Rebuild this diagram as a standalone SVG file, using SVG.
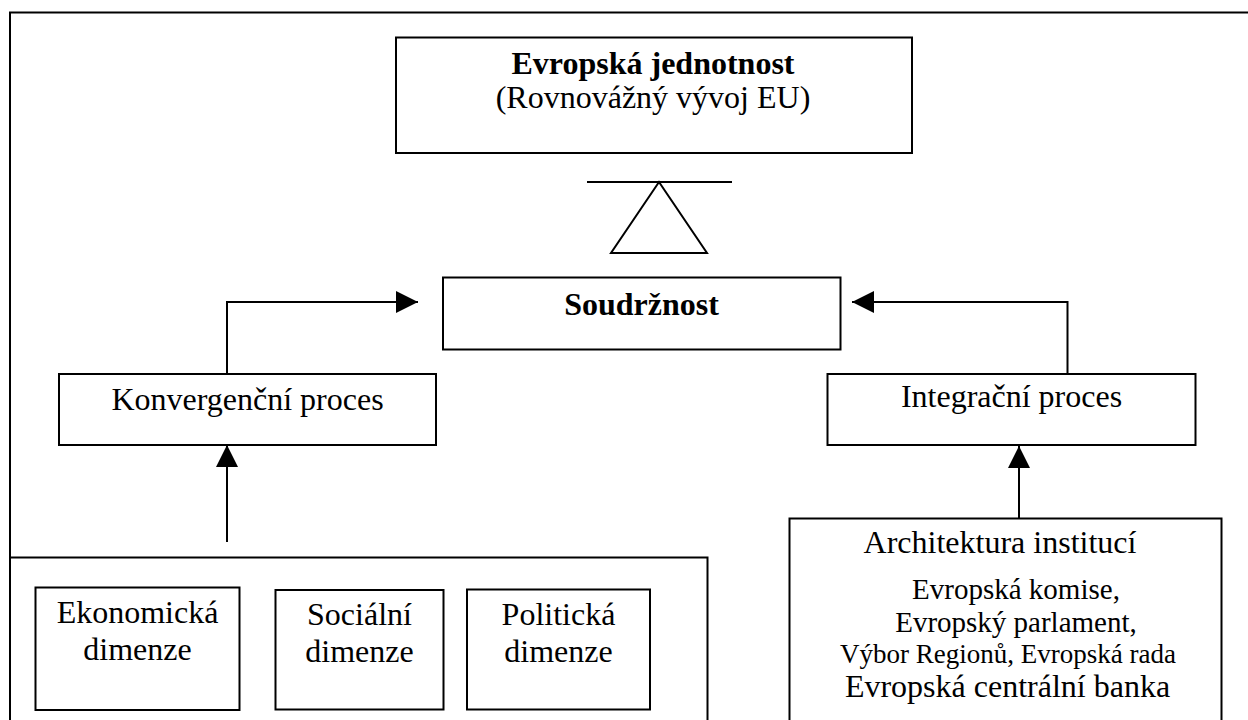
<svg xmlns="http://www.w3.org/2000/svg" width="1248" height="720" viewBox="0 0 1248 720">
<style>
.box{fill:#fff;stroke:#000;stroke-width:2}
.ln{fill:none;stroke:#000;stroke-width:2}
</style>
<defs>
<marker id="ah" markerUnits="userSpaceOnUse" markerWidth="22" markerHeight="22" viewBox="0 0 20 20" refX="20" refY="10" orient="auto">
<path d="M0,0 L20,10 L0,20 Z" fill="#000"/>
</marker>
</defs>
<rect x="0" y="0" width="1248" height="720" fill="#fff"/>
<g id="frame">
<path class="ln" d="M10,730 L10,12.5 L1250,12.5"/>
</g>
<g font-family="'Liberation Serif'" font-size="32" text-anchor="middle" fill="#000">
<g id="node-jednotnost">
<rect class="box" x="396" y="37.5" width="516" height="115.5"/>
<text font-family="'Liberation Serif'" font-weight="bold" x="653" y="74">Evropská jednotnost</text>
<text font-family="'Liberation Serif'" x="653" y="108">(Rovnovážný vývoj EU)</text>
</g>
<g id="balance">
<line class="ln" x1="587" y1="182" x2="732" y2="182"/>
<path class="ln" d="M659,182 L611,253 L707,253 Z"/>
</g>
<g id="node-soudrznost">
<rect class="box" x="443" y="277.5" width="397.5" height="72"/>
<text font-family="'Liberation Serif'" font-weight="bold" x="641.5" y="315">Soudržnost</text>
</g>
<g id="node-konvergence">
<rect class="box" x="59" y="374" width="377" height="71"/>
<text font-family="'Liberation Serif'" x="247.5" y="410">Konvergenční proces</text>
</g>
<g id="node-integrace">
<rect class="box" x="827.5" y="374" width="368" height="71"/>
<text font-family="'Liberation Serif'" x="1011.5" y="407">Integrační proces</text>
</g>
<g id="node-dimenze">
<rect class="box" x="10" y="557.5" width="697.5" height="175"/>
</g>
<g id="node-ekonomicka">
<rect class="box" x="35.5" y="587.5" width="204" height="122.5"/>
<text font-family="'Liberation Serif'" x="137.5" y="623">Ekonomická</text>
<text font-family="'Liberation Serif'" x="137.5" y="660">dimenze</text>
</g>
<g id="node-socialni">
<rect class="box" x="275.5" y="590" width="168" height="119.5"/>
<text font-family="'Liberation Serif'" x="359.5" y="625">Sociální</text>
<text font-family="'Liberation Serif'" x="359.5" y="662">dimenze</text>
</g>
<g id="node-politicka">
<rect class="box" x="467" y="589.5" width="183" height="120"/>
<text font-family="'Liberation Serif'" x="558.5" y="625">Politická</text>
<text font-family="'Liberation Serif'" x="558.5" y="662">dimenze</text>
</g>
<g id="node-architektura">
<rect class="box" x="789.5" y="518.5" width="432" height="215"/>
<text font-family="'Liberation Serif'" x="1000" y="553">Architektura institucí</text>
<text font-family="'Liberation Serif'" font-size="29" x="1016" y="599">Evropská komise,</text>
<text font-family="'Liberation Serif'" font-size="29" x="1016" y="632">Evropský parlament,</text>
<text font-family="'Liberation Serif'" font-size="27" x="1008" y="663">Výbor Regionů, Evropská rada</text>
<text font-family="'Liberation Serif'" x="1007.5" y="697">Evropská centrální banka</text>
</g>
</g>
<g id="connectors">
<path class="ln" d="M227,374 L227,302 L418,302" marker-end="url(#ah)"/>
<path class="ln" d="M1067.5,374 L1067.5,302 L852,302" marker-end="url(#ah)"/>
<path class="ln" d="M227,542 L227,445" marker-end="url(#ah)"/>
<path class="ln" d="M1019,518 L1019,446" marker-end="url(#ah)"/>
</g>
</svg>
